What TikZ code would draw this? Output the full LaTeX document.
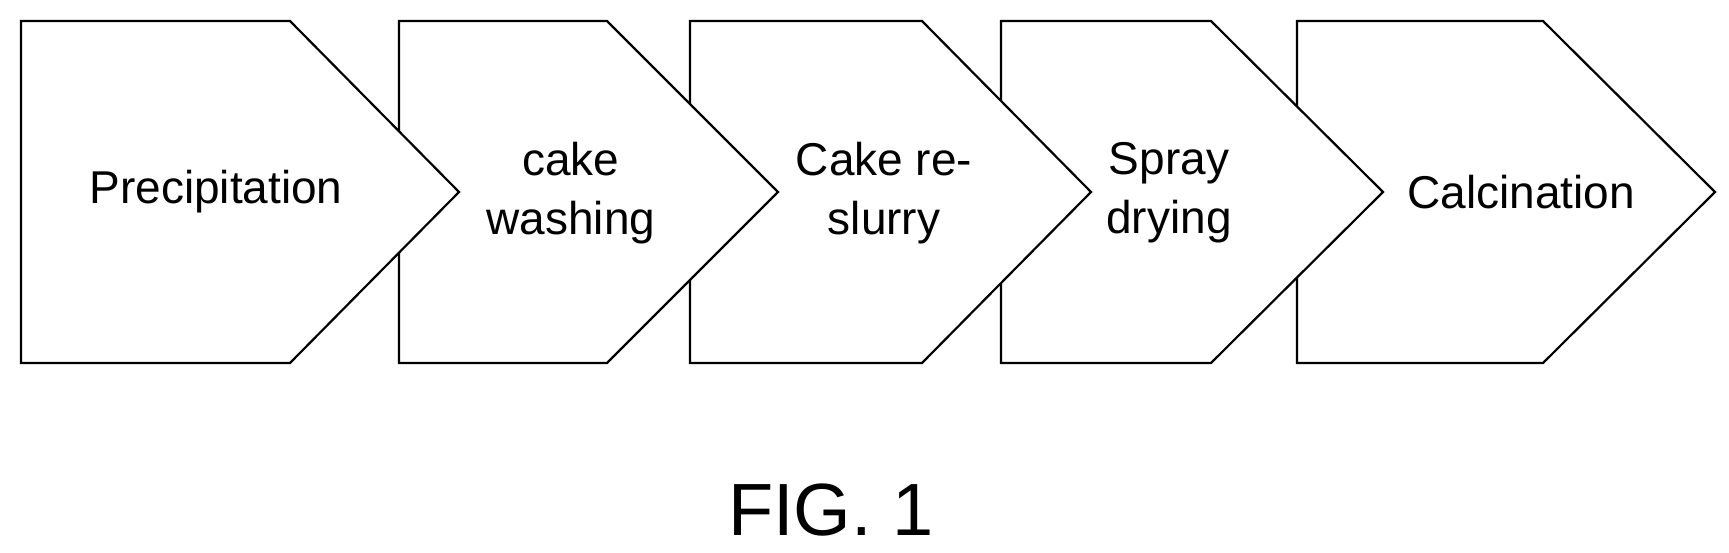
\documentclass[tikz,border=0pt]{standalone}
\usepackage{fontspec}
\setmainfont{Liberation Sans}
\begin{document}
\begin{tikzpicture}[x=1pt,y=-1pt,
  box/.style={draw=black,line width=2.2pt,fill=white,line join=miter},
  lbl/.style={font=\fontsize{46}{59}\selectfont,align=center}]
\useasboundingbox (0,0) rectangle (1729,553);
\newcommand\penta[4]{\draw[box] (#1,21) -- (#2,21) -- (#3,192) -- (#2,363) -- (#1,363) -- cycle;}
\penta{1297}{1543}{1715}{}
\penta{1001}{1211}{1383}{}
\penta{690}{922}{1091}{}
\penta{399}{607}{778}{}
\penta{21}{290}{459}{}
\node[lbl] (p1) at (216,192) {Precipitation};
\node[lbl] (p2) at (571,193) {cake\\washing};
\node[lbl] (p3) at (884,193) {Cake re-\\slurry};
\node[lbl] (p4) at (1169,193) {Spray\\drying};
\node[lbl] (p5) at (1521,192) {Calcination};
\node[font=\fontsize{74}{80}\selectfont] (fig) at (831,510) {FIG. 1};
\end{tikzpicture}
\end{document}
